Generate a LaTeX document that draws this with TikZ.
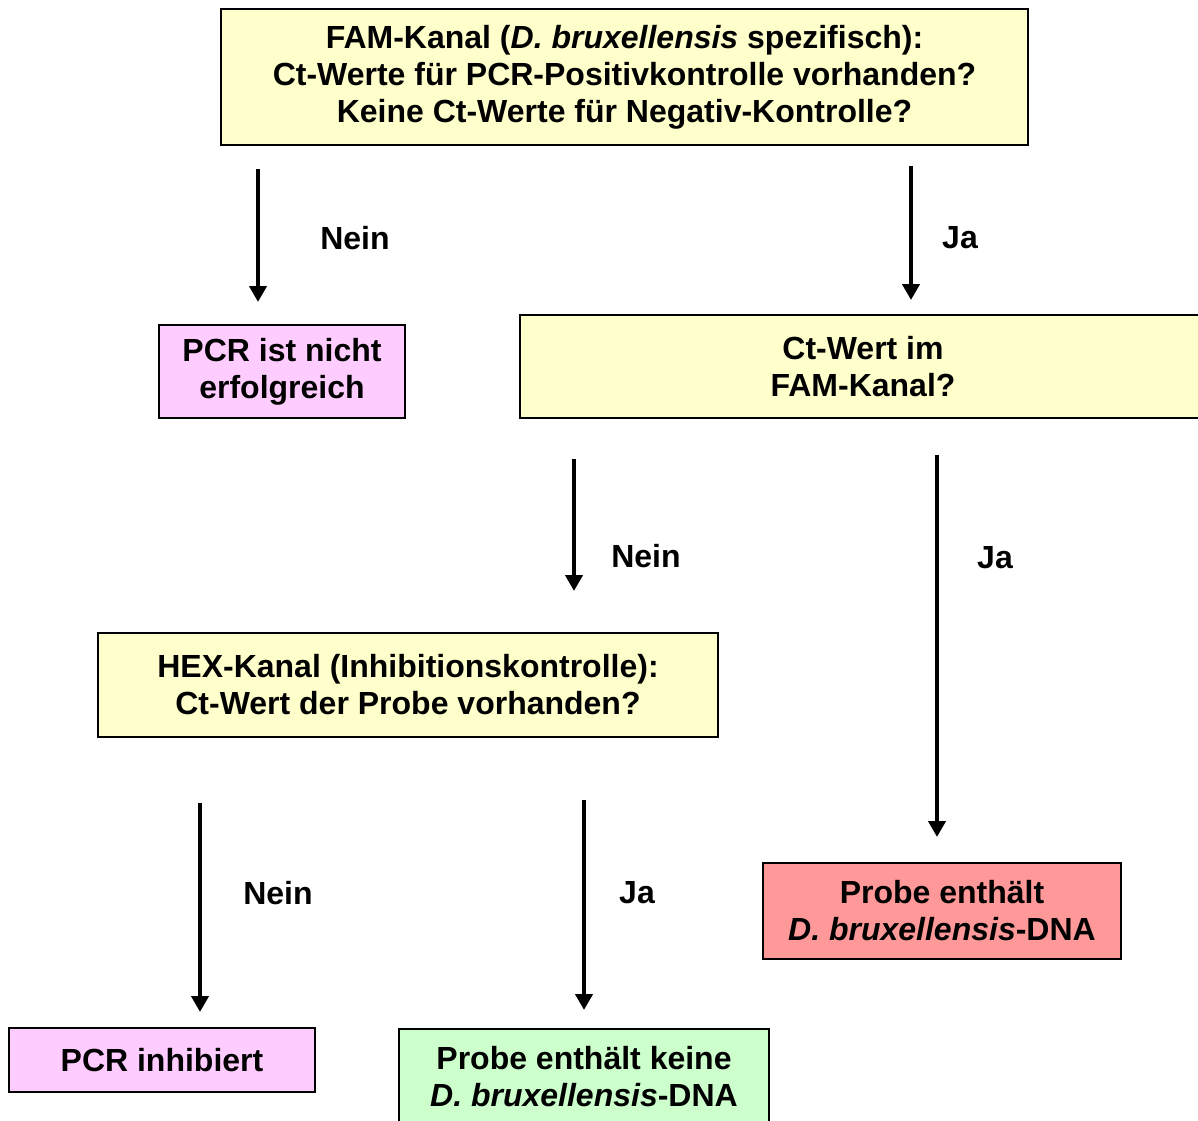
\documentclass[tikz,border=0pt]{standalone}
\usepackage{fontspec}
\setmainfont{Liberation Sans}
\usetikzlibrary{arrows.meta}
\definecolor{cgelb}{rgb}{1, 1, 0.8}
\definecolor{crosa}{rgb}{1, 0.8, 1}
\definecolor{crot}{rgb}{1, 0.6, 0.6}
\definecolor{cgruen}{rgb}{0.8, 1, 0.8}

\begin{document}
\begin{tikzpicture}[x=0.5pt, y=-0.5pt, font=\fontsize{16}{18.5}\selectfont\bfseries]
	\tikzstyle{box}=[rectangle, draw=black, line width=1pt, inner sep=0pt, align=center, text=black]
	\tikzstyle{pfeil}=[line width=2pt, -{Triangle[width=8.5pt, length=8pt]}]
	\tikzstyle{wahl}=[inner sep=0pt, anchor=center]

	\useasboundingbox (0,0) rectangle (1198,1120);

	% KAESTEN
	\node[box, fill=cgelb, minimum width=403.5pt, minimum height=68pt] (Fam) at (624.5, 77)
		{FAM-Kanal (\textit{D. bruxellensis} spezifisch):\\
		 Ct-Werte für PCR-Positivkontrolle vorhanden?\\
		 Keine Ct-Werte für Negativ-Kontrolle?};
	\node[box, fill=crosa, minimum width=123pt, minimum height=46.5pt] (Pcr) at (282, 371.5)
		{PCR ist nicht\\ erfolgreich};
	\node[box, fill=cgelb, minimum width=343pt, minimum height=51.5pt] (Ct) at (863, 366.5)
		{Ct-Wert im\\ FAM-Kanal?};
	\node[box, fill=cgelb, minimum width=310pt, minimum height=52pt] (Hex) at (408, 685)
		{HEX-Kanal (Inhibitionskontrolle):\\ Ct-Wert der Probe vorhanden?};
	\node[box, fill=crot, minimum width=179pt, minimum height=48pt] (Pos) at (942, 911)
		{Probe enthält\\ \textit{D. bruxellensis}-DNA};
	\node[box, fill=crosa, minimum width=153pt, minimum height=32pt] (Inh) at (162, 1060)
		{PCR inhibiert};
	\node[box, fill=cgruen, minimum width=185pt, minimum height=47.5pt] (Neg) at (584, 1076.5)
		{Probe enthält keine\\ \textit{D. bruxellensis}-DNA};

	% PFEILE
	\coordinate (P1a) at (258, 169);  \coordinate (P1b) at (258, 302);
	\coordinate (P2a) at (911, 166);  \coordinate (P2b) at (911, 300);
	\coordinate (P3a) at (574, 459);  \coordinate (P3b) at (574, 591);
	\coordinate (P4a) at (937, 455);  \coordinate (P4b) at (937, 837);
	\coordinate (P5a) at (200, 803);  \coordinate (P5b) at (200, 1012);
	\coordinate (P6a) at (584, 800);  \coordinate (P6b) at (584, 1010);

	\draw[pfeil] (P1a) -- (P1b);
	\draw[pfeil] (P2a) -- (P2b);
	\draw[pfeil] (P3a) -- (P3b);
	\draw[pfeil] (P4a) -- (P4b);
	\draw[pfeil] (P5a) -- (P5b);
	\draw[pfeil] (P6a) -- (P6b);

	% ANTWORTEN
	\node[wahl] (L1) at (355, 238) {Nein};
	\node[wahl] (L2) at (960, 238) {Ja};
	\node[wahl] (L3) at (646, 556) {Nein};
	\node[wahl] (L4) at (995, 558) {Ja};
	\node[wahl] (L5) at (278, 893) {Nein};
	\node[wahl] (L6) at (637, 893) {Ja};
\end{tikzpicture}
\end{document}
